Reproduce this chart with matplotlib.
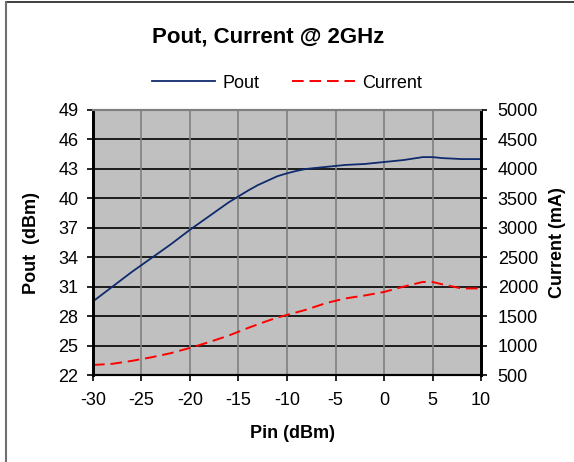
import matplotlib.pyplot as plt
from matplotlib.lines import Line2D

plt.rcParams['font.family'] = ['Liberation Sans', 'DejaVu Sans']
plt.rcParams['axes.unicode_minus'] = False

# data
pin = [-30, -28, -26, -24, -22, -20, -18, -16, -14, -13, -12, -11, -10,
       -9, -8, -6, -4, -2, 0, 2, 4, 5, 6, 8, 10]
pout = [29.5, 31.0, 32.5, 33.9, 35.3, 36.8, 38.2, 39.6, 40.8, 41.35, 41.8, 42.25, 42.55,
        42.8, 43.0, 43.2, 43.4, 43.5, 43.7, 43.9, 44.2, 44.2, 44.1, 44.0, 44.0]
current = [670, 690, 740, 800, 870, 960, 1060, 1170, 1300, 1360, 1420, 1475, 1520,
           1565, 1610, 1720, 1800, 1850, 1910, 2000, 2080, 2080, 2040, 1970, 1970]

x_ticks = list(range(-30, 11, 5))
pout_ticks = list(range(22, 50, 3))
cur_ticks = list(range(500, 5001, 500))

W, H = 574, 462
fig = plt.figure(figsize=(W/100, H/100), dpi=100)
ax = fig.add_axes([93/W, 1-375/H, 388/W, 265/H])
ax2 = ax.twinx()

ax.set_facecolor('#C0C0C0')
ax.set_xlim(-30, 10)
ax.set_ylim(22, 49)
ax2.set_ylim(500, 5000)
ax.set_xticks(x_ticks)
ax.set_yticks(pout_ticks)
ax2.set_yticks(cur_ticks)

# grid: black horizontal, gray vertical
for v in pout_ticks[1:-1]:
    ax.axhline(v, color='black', lw=1.2, zorder=1)
for v in x_ticks[1:-1]:
    ax.axvline(v, color='#808080', lw=1.2, zorder=1)

l1, = ax.plot(pin, pout, color='#0F2B6E', lw=1.3, zorder=3, label='Pout')
l2, = ax2.plot(pin, current, color='#FF0000', lw=1.4, dashes=(6, 3), label='Current')

for a in (ax, ax2):
    a.spines['top'].set_color('#808080')
    a.spines['top'].set_linewidth(1.5)
    a.spines['left'].set_linewidth(2)
    a.spines['right'].set_linewidth(2)
    a.spines['bottom'].set_linewidth(1.5)
ax.tick_params(axis='x', labelsize=13, length=4.5, width=1.2, pad=8)
ax.tick_params(axis='y', labelsize=13, length=4.5, width=1.2, pad=6)
ax2.tick_params(axis='y', labelsize=13, length=4, width=1.2, pad=8)

ax.set_xlabel('Pin (dBm)', fontsize=13, fontweight='bold')
ax.set_ylabel('Pout  (dBm)', fontsize=13, fontweight='bold')
ax2.set_ylabel('Current (mA)', fontsize=13, fontweight='bold', rotation=90)
ax.xaxis.set_label_coords(293/W, 1-433/H, transform=fig.transFigure)
ax.yaxis.set_label_coords(32/W, 1-243/H, transform=fig.transFigure)
ax2.yaxis.set_label_coords(557/W, 1-243/H, transform=fig.transFigure)
ax.xaxis.label.set_va('center')
ax.yaxis.label.set_va('center')
ax2.yaxis.label.set_va('center')

fig.text(268/W, 1-37/H, 'Pout, Current @ 2GHz', ha='center', va='center',
         fontsize=16, fontweight='bold')
fig.legend([l1, l2], ['Pout', 'Current'], loc='center', ncol=2,
           bbox_to_anchor=(287/W, 1-83/H), frameon=False, fontsize=13,
           handlelength=3.5, columnspacing=1.8, handletextpad=0.4)

# chart border (top and left edges visible)
fig.lines.append(Line2D([6/W, 1], [1-2/H, 1-2/H], transform=fig.transFigure,
                        color='#202020', lw=1.2))
fig.lines.append(Line2D([6/W, 6/W], [0, 1-2/H], transform=fig.transFigure,
                        color='#707070', lw=1.5))

fig.savefig('out.png', dpi=100)
